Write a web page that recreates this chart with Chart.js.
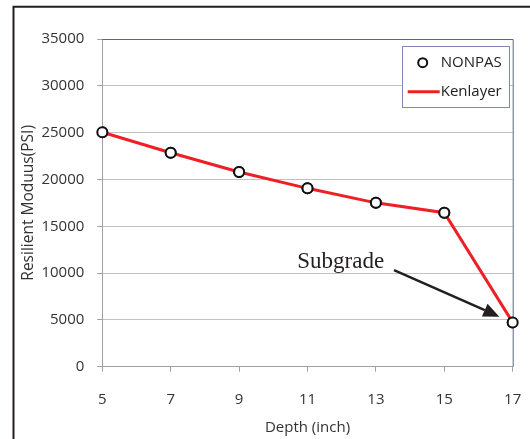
<!DOCTYPE html>
<html><head><meta charset="utf-8">
<script src="https://cdn.jsdelivr.net/npm/chart.js@4.4.1/dist/chart.umd.min.js"></script>
<style>html,body{margin:0;padding:0;background:#fff;}#wrap{width:530px;height:439px;}</style>
</head><body><div id="wrap"><canvas id="c" width="530" height="439"></canvas></div>
<script>
// ---- data ----
const depths = [5, 7, 9, 11, 13, 15, 17];
const nonpasValues = [25050, 22850, 20800, 19050, 17500, 16450, 4730];
const kenlayerValues = [25050, 22850, 20800, 19050, 17500, 16450, 4730];
const xTickValues = [5, 7, 9, 11, 13, 15, 17];
const yTickValues = [0, 5000, 10000, 15000, 20000, 25000, 30000, 35000];
const seriesNames = ['NONPAS', 'Kenlayer'];
const xTitle = 'Depth (inch)';
const yTitle = 'Resilient Moduus(PSI)';
const annotationText = 'Subgrade';
const annotationTextAt = [10.70, 10540];
const arrowFrom = [13.53, 10325];
const arrowTo = [16.61, 5340];

const FONT = 'Open Sans';
const TXT = '#333333';

const framePlugin = {
  id: 'frame',
  beforeDraw(chart) {
    const c = chart.ctx;
    c.save();
    c.fillStyle = '#fff';
    c.fillRect(0, 0, chart.width, chart.height);
    c.strokeStyle = '#231f20';
    c.lineWidth = 2;
    c.beginPath();
    c.moveTo(13.5, chart.height);
    c.lineTo(13.5, 6.8);
    c.lineTo(chart.width, 6.8);
    c.stroke();
    c.restore();
  },
  afterDatasetsDraw(chart) {
    const c = chart.ctx;
    const a = chart.chartArea;
    const xs = chart.scales.x, ys = chart.scales.y;
    c.save();
    // plot border top & right
    c.strokeStyle = '#5a6492';
    c.lineWidth = 1;
    c.beginPath();
    c.moveTo(a.left, a.top + 0.5);
    c.lineTo(a.right + 0.5, a.top + 0.5);
    c.lineTo(a.right + 0.5, a.bottom);
    c.stroke();
    // redraw markers on top of border
    chart.getDatasetMeta(0).data.forEach(p => p.draw(c, a));

    // annotation text
    c.fillStyle = '#231f20';
    c.font = '23px "Liberation Serif"';
    c.textAlign = 'left';
    c.textBaseline = 'alphabetic';
    c.fillText(annotationText, xs.getPixelForValue(annotationTextAt[0]), ys.getPixelForValue(annotationTextAt[1]));
    // arrow
    const x1 = xs.getPixelForValue(arrowFrom[0]), y1 = ys.getPixelForValue(arrowFrom[1]);
    const x2 = xs.getPixelForValue(arrowTo[0]), y2 = ys.getPixelForValue(arrowTo[1]);
    const ang = Math.atan2(y2 - y1, x2 - x1);
    const hl = 16, hw = 7;
    const bx = x2 - hl * Math.cos(ang), by = y2 - hl * Math.sin(ang);
    c.strokeStyle = '#231f20';
    c.lineWidth = 2.5;
    c.beginPath();
    c.moveTo(x1, y1);
    c.lineTo(bx, by);
    c.stroke();
    c.beginPath();
    c.moveTo(x2, y2);
    c.lineTo(bx + hw * Math.sin(ang), by - hw * Math.cos(ang));
    c.lineTo(bx - hw * Math.sin(ang), by + hw * Math.cos(ang));
    c.closePath();
    c.fill();

    // legend
    const bw = 107, bh = 61;
    const lx = a.right - 4 - bw, ly = a.top + 7;
    c.fillStyle = '#fff';
    c.fillRect(lx, ly, bw, bh);
    c.strokeStyle = '#7f88b2';
    c.lineWidth = 1;
    c.strokeRect(Math.round(lx) + 0.5, Math.round(ly) + 0.5, bw, bh);
    const ds = chart.data.datasets;
    c.font = '15px "' + FONT + '"';
    c.textBaseline = 'middle';
    c.fillStyle = '#222';
    // row 1: marker
    c.beginPath();
    c.arc(lx + 21, ly + 16.7, 4.5, 0, Math.PI * 2);
    c.fillStyle = ds[0].pointBackgroundColor;
    c.fill();
    c.lineWidth = 2;
    c.strokeStyle = ds[0].pointBorderColor;
    c.stroke();
    c.fillStyle = '#222';
    c.fillText(ds[0].label, lx + 39, ly + 17);
    // row 2: line
    c.beginPath();
    c.moveTo(lx + 6, ly + 45.7);
    c.lineTo(lx + 38, ly + 45.7);
    c.strokeStyle = ds[1].borderColor;
    c.lineWidth = ds[1].borderWidth;
    c.stroke();
    c.fillText(ds[1].label, lx + 39, ly + 46);
    c.restore();
  }
};

new Chart(document.getElementById('c').getContext('2d'), {
  type: 'scatter',
  data: {
    datasets: [
      {
        label: seriesNames[0],
        data: depths.map((d, i) => ({ x: d, y: nonpasValues[i] })),
        showLine: false,
        pointRadius: 5,
        pointBorderWidth: 2,
        pointBackgroundColor: '#ffffff',
        pointBorderColor: '#111111',
        order: 0
      },
      {
        label: seriesNames[1],
        data: depths.map((d, i) => ({ x: d, y: kenlayerValues[i] })),
        showLine: true,
        borderColor: '#ee1f25',
        borderWidth: 3,
        pointRadius: 0,
        tension: 0,
        order: 1
      }
    ]
  },
  options: {
    responsive: false,
    animation: false,
    devicePixelRatio: 1,
    layout: { padding: { top: 39, right: 17.3, left: 0, bottom: 0 } },
    plugins: { legend: { display: false }, tooltip: { enabled: false } },
    scales: {
      x: {
        type: 'linear', min: 5, max: 17,
        afterBuildTicks: s => { s.ticks = xTickValues.map(v => ({ value: v })); },
        grid: { drawOnChartArea: false, drawTicks: true, tickLength: 5, color: '#a0a0a0' },
        border: { color: '#a0a0a0' },
        ticks: { padding: 19, maxRotation: 0, font: { family: FONT, size: 15 }, color: TXT },
        title: { display: true, text: xTitle, color: TXT, font: { family: FONT, size: 15 }, padding: { top: 0, bottom: 2 } },
        afterFit: s => { s.height = 72.3; s.paddingLeft = 0; s.paddingRight = 0; }
      },
      y: {
        type: 'linear', min: 0, max: 35000,
        afterBuildTicks: s => { s.ticks = yTickValues.map(v => ({ value: v })); },
        grid: { color: '#c2c2c2', tickColor: '#a0a0a0', tickLength: 5 },
        border: { color: '#a0a0a0' },
        ticks: { padding: 13, font: { family: FONT, size: 15 }, color: TXT, callback: v => String(v) },
        title: { display: true, text: yTitle, color: TXT, font: { family: FONT, size: 15.5 }, padding: { top: 19, bottom: 0 } },
        afterFit: s => { s.width = 102.3; s.paddingTop = 0; s.paddingBottom = 0; }
      }
    }
  },
  plugins: [framePlugin]
});
</script>
</body></html>
